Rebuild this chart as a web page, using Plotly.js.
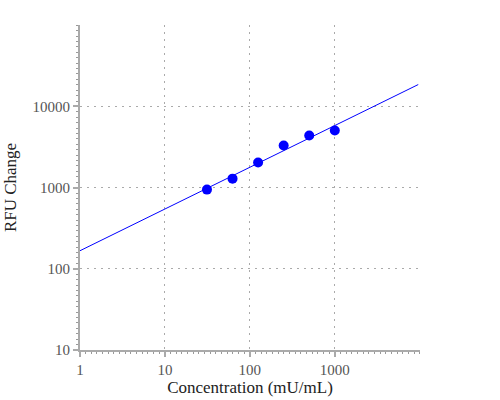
<!DOCTYPE html>
<html>
<head>
<meta charset="utf-8">
<script src="https://cdn.plot.ly/plotly-3.0.1.min.js"></script>
<style>
  body { margin: 0; }
  #plot { width: 500px; height: 400px; }
</style>
</head>
<body>
<div id="plot"></div>
<script>
// measured standards
var conc = [31.25, 62.5, 125, 250, 500, 1000];
var rfu = [945, 1290, 2040, 3300, 4390, 5060];

var fitX = [1, 9600];
var fitY = [167, 18600];

var xTicks = [1, 10, 100, 1000, 10000];
var xLabels = ['1', '10', '100', '1000', ''];
var yTicks = [10, 100, 1000, 10000, 100000];
var yLabels = ['10', '100', '1000', '10000', ''];

// small ticks along the axis lines, evenly spaced in log units
function minorTicks(from, to, perDecade){
  var vals = [];
  for(var k = from * perDecade; k <= to * perDecade; k++){
    vals.push(Math.pow(10, k / perDecade));
  }
  return vals;
}

var data = [
  {
    x: fitX,
    y: fitY,
    mode: 'lines',
    line: {color: 'blue', width: 1},
    hoverinfo: 'skip'
  },
  {
    x: conc,
    y: rfu,
    mode: 'markers',
    marker: {color: 'blue', size: 10}
  }
];

var serif = 'Liberation Serif';

var axisStyle = {
  type: 'log',
  showline: true,
  linecolor: '#aaa',
  linewidth: 2,
  ticks: 'outside',
  ticklen: 5,
  tickcolor: '#aaa',
  tickwidth: 2,
  tickmode: 'array',
  gridcolor: '#aaa',
  griddash: '2px,5px',
  gridwidth: 1,
  zeroline: false,
  tickfont: {family: serif, size: 15, color: '#555'}
};

var minorStyle = {tickmode: 'array', ticks: 'outside', ticklen: 2, tickwidth: 1, tickcolor: '#999', showgrid: false};

var layout = {
  width: 500,
  height: 400,
  margin: {l: 80, r: 80, t: 25, b: 50},
  showlegend: false,
  plot_bgcolor: 'white',
  paper_bgcolor: 'white',
  font: {family: serif, size: 15, color: '#222'},
  xaxis: Object.assign({}, axisStyle, {
    range: [0, 4.003],
    tickvals: xTicks,
    ticktext: xLabels,
    minor: Object.assign({tickvals: minorTicks(0, 4, 15)}, minorStyle),
    title: {text: 'Concentration (mU/mL)', standoff: 2, font: {family: serif, size: 17, color: '#222'}}
  }),
  yaxis: Object.assign({}, axisStyle, {
    range: [1, 5.003],
    tickvals: yTicks,
    ticktext: yLabels,
    minor: Object.assign({tickvals: minorTicks(1, 5, 15)}, minorStyle),
    title: {text: 'RFU Change', standoff: 12, font: {family: serif, size: 17, color: '#222'}}
  })
};

Plotly.newPlot('plot', data, layout, {staticPlot: true});
</script>
</body>
</html>
